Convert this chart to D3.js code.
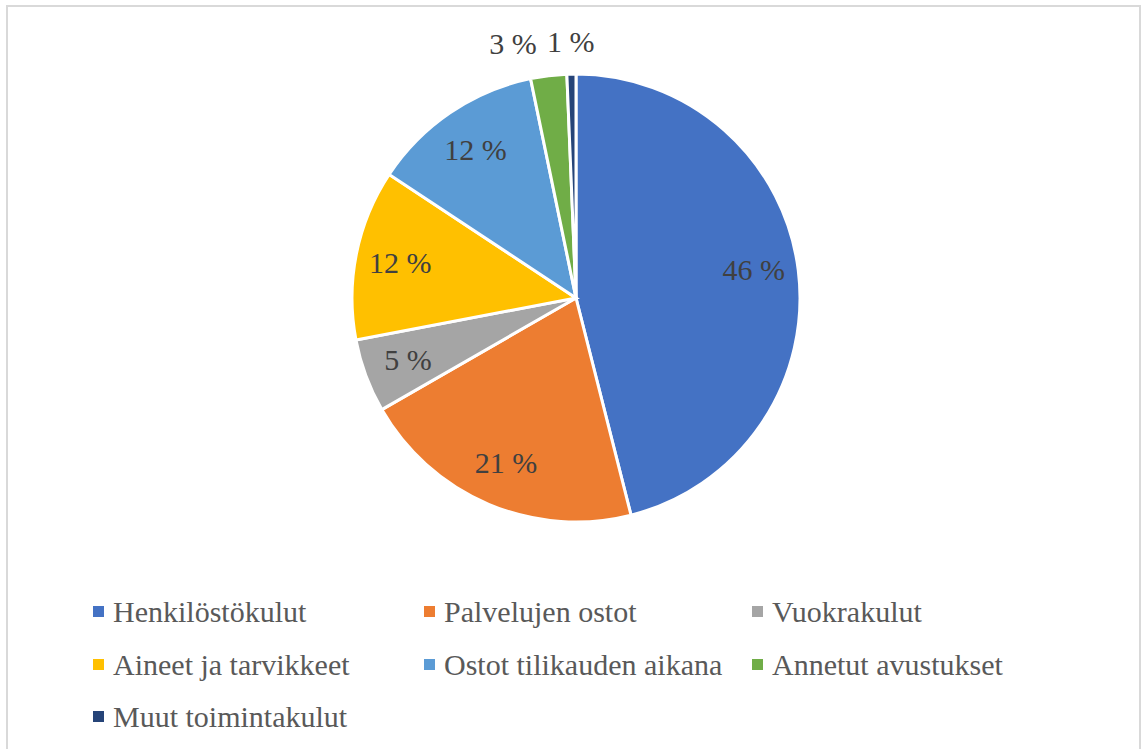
<!DOCTYPE html>
<html><head><meta charset="utf-8"><script src="https://cdn.jsdelivr.net/npm/d3@7"></script></head>
<body style="margin:0"><script>
var categories = ["Henkilöstökulut", "Palvelujen ostot", "Vuokrakulut", "Aineet ja tarvikkeet",
	"Ostot tilikauden aikana", "Annetut avustukset", "Muut toimintakulut"];
var shares = [46.05, 20.65, 5.3, 12.3, 12.45, 2.6, 0.65];
var labels = ["46 %", "21 %", "5 %", "12 %", "12 %", "3 %", "1 %"];
var colors = ["#4472C4", "#ED7D31", "#A5A5A5", "#FFC000", "#5B9BD5", "#70AD47", "#264478"];

var width = 1142, height = 749;
var cx = 576, cy = 298, radius = 224;
var serifFont = "'Liberation Serif', 'Times New Roman', Tinos, serif";

var svg = d3.select("body")
	.append("svg")
	.attr("width", width)
	.attr("height", height)
;

// frame
svg.append("rect")
	.attr("x", 7)
	.attr("y", 6)
	.attr("width", 1133)
	.attr("height", 760)
	.attr("fill", "none")
	.attr("stroke", "#d9d9d9")
	.attr("stroke-width", 2)
;

var pieData = d3.pie().sort(null)(shares);
var arc = d3.arc().innerRadius(0).outerRadius(radius);
var labelArc = d3.arc().innerRadius(radius * 0.8).outerRadius(radius * 0.8);
var outerArc = d3.arc().innerRadius(radius + 32).outerRadius(radius + 32);

svg.selectAll("path")
	.data(pieData)
	.enter()
	.append("path")
	.attr("transform", "translate(" + cx + "," + cy + ")")
	.attr("d", arc)
	.attr("fill", function(d, i) { return colors[i]; })
	.attr("stroke", "#fff")
	.attr("stroke-width", 3)
;

svg.selectAll("text.label")
	.data(pieData)
	.enter()
	.append("text")
	.attr("class", "label")
	.attr("x", function(d, i) {
		return cx + (i >= 5 ? outerArc.centroid(d) : labelArc.centroid(d))[0] + (i === 5 ? -8 : 0);
	})
	.attr("y", function(d, i) {
		return cy + (i >= 5 ? outerArc.centroid(d) : labelArc.centroid(d))[1] + (i === 0 ? 4 : 10);
	})
	.attr("text-anchor", function(d, i) { return i === 5 ? "end" : "middle"; })
	.attr("font-size", 30)
	.attr("fill", "#404040")
	.text(function(d, i) { return labels[i]; })
;

// legend
var colX = [93, 424, 752], rowY = [612, 665, 717];
svg.selectAll("rect.key")
	.data(categories)
	.enter()
	.append("rect")
	.attr("class", "key")
	.attr("x", function(d, i) { return colX[i % 3]; })
	.attr("y", function(d, i) { return rowY[Math.floor(i / 3)] - 6; })
	.attr("width", 11)
	.attr("height", 11)
	.attr("fill", function(d, i) { return colors[i]; })
;
svg.selectAll("text.key")
	.data(categories)
	.enter()
	.append("text")
	.attr("class", "key")
	.attr("x", function(d, i) { return colX[i % 3] + 20; })
	.attr("y", function(d, i) { return rowY[Math.floor(i / 3)] + 10; })
	.attr("font-size", 30)
	.attr("fill", "#595959")
	.text(function(d) { return d; })
;

function applyFont() {
	svg.selectAll("text")
		.attr("font-family", serifFont)
		.style("font-family", serifFont)
	;
}
applyFont();
if (document.fonts && document.fonts.load) {
	document.fonts.load("30px 'Liberation Serif'").then(applyFont);
}
</script></body></html>
